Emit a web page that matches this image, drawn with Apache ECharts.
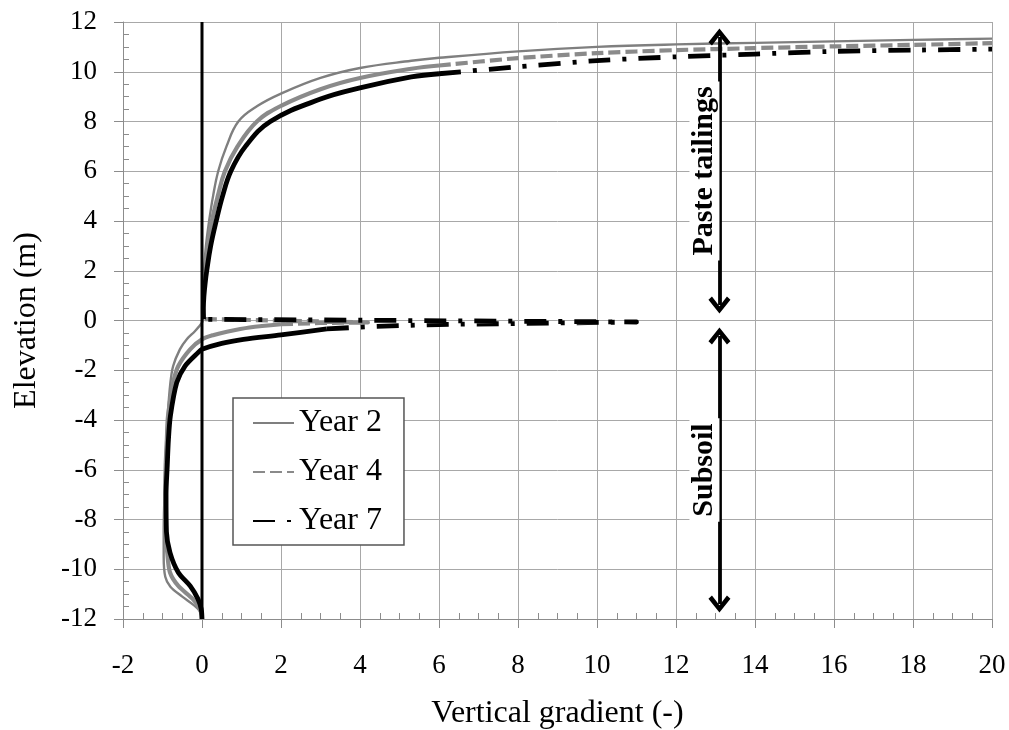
<!DOCTYPE html>
<html>
<head>
<meta charset="utf-8">
<script src="https://cdn.jsdelivr.net/npm/echarts@6/dist/echarts.min.js"></script>
<style>
html,body{margin:0;padding:0;background:#fff;}
#chart{width:1009px;height:730px;}
</style>
</head>
<body>
<div id="chart"></div>
<script>
// ---- data (x = vertical gradient, y = elevation in m) ----
var year2Lower = [[0,-12],[-0.05,-11.7],[-0.2,-11.45],[-0.5,-11.1],[-0.8,-10.7],[-0.93,-10.3],[-0.97,-9.5],[-0.97,-8.5],[-0.95,-7],[-0.93,-5.85],[-0.9,-4.8],[-0.87,-3.84],[-0.8,-2.5],[-0.73,-1.83],[-0.56,-1.16],[-0.39,-0.76],[-0.18,-0.43],[0,-0.09],[0.02,0.04]];
var year2Upper = [[0.02,0.04],[0.015,0.5],[0.02,1],[0.035,1.5],[0.05,2],[0.1,3],[0.18,4],[0.28,5],[0.41,6],[0.62,7],[0.92,8],[1.4,8.62],[2,9.12],[3,9.75],[4,10.15],[5.3,10.44],[6,10.56],[8,10.82],[10,11.0],[12,11.1],[14,11.16],[16,11.22],[18,11.28],[20,11.33]];
var year4LowerCurve = [[0,-12],[-0.05,-11.6],[-0.23,-11.2],[-0.6,-10.67],[-0.81,-10.13],[-0.88,-9.33],[-0.93,-8.5],[-0.93,-7],[-0.92,-5.85],[-0.89,-4.8],[-0.86,-3.84],[-0.73,-2.5],[-0.6,-1.83],[-0.3,-1.16],[0,-0.76],[0.3,-0.58],[0.63,-0.45],[1.2,-0.28],[2,-0.15]];
var year4LowerTail = [[2,-0.15],[3,-0.1],[4.2,-0.08],[0.03,0.06]];
var year4UpperCurve = [[0.03,0.06],[0.025,0.5],[0.04,1],[0.06,1.5],[0.08,2],[0.15,3],[0.25,4],[0.4,5],[0.58,6],[0.9,7],[1.39,8],[2,8.63],[3,9.3],[4,9.75],[5.3,10.12],[6,10.25]];
var year4UpperTail = [[6,10.25],[8,10.55],[10,10.75],[12,10.87],[14,10.95],[16,11.02],[18,11.08],[20,11.15]];
var year7LowerCurve = [[0,-12],[-0.02,-11.6],[-0.1,-11.2],[-0.3,-10.67],[-0.6,-10.13],[-0.81,-9.33],[-0.9,-8.5],[-0.91,-7],[-0.88,-5.85],[-0.85,-4.8],[-0.8,-3.84],[-0.64,-2.5],[-0.43,-1.83],[-0.1,-1.29],[0,-1.16],[0.5,-0.92],[1.05,-0.76],[2,-0.58],[3.16,-0.34]];
var year7LowerTail = [[3.16,-0.34],[4.3,-0.24],[6,-0.16],[8,-0.12],[11,-0.06],[0.04,0.05]];
var year7UpperCurve = [[0.04,0.05],[0.035,0.5],[0.05,1],[0.08,1.5],[0.12,2],[0.22,3],[0.36,4],[0.52,5],[0.73,6],[1.1,7],[1.73,8],[3,8.9],[4,9.35],[5.3,9.79],[6,9.92]];
var year7UpperTail = [[6,9.92],[8,10.2],[10,10.45],[12,10.6],[14,10.71],[16,10.82],[18,10.87],[20,10.91]];
var zeroLine = [[0,-12],[0,12]];
var seriesNames = ['Year 2','Year 4','Year 7'];
var pasteArrow = [0.62, 11.4];
var subsoilArrow = [-11.4, -0.62];
var arrowX = 13.1;
var annotationLabels = ['Paste tailings','Subsoil'];

var FONT = '"Liberation Serif","Times New Roman",serif';
var styles = {
  'Year 2': {color:'#7f7f7f', width:2.4, type:'solid'},
  'Year 4': {color:'#8a8a8a', width:4.2, type:[12,5]},
  'Year 7': {color:'#000000', width:4.8, type:[22,12,4,12]}
};
function mk(name, data, smooth, dashed){
  var s = styles[name];
  return {
    type:'line', name:name, data:data, showSymbol:false, symbol:'none',
    smooth:smooth, animation:false, silent:true, z:3,
    lineStyle:{color:s.color, width:s.width, type:dashed ? s.type : 'solid', cap:'butt', join:'round'},
    itemStyle:{color:s.color}
  };
}
var chevron = 'path://M11,0 L22,13 L18.5,16 L11,7 L3.5,16 L0,13 Z';
var labelStyle = {
  show:true, position:'middle', fontFamily:FONT, fontWeight:'bold', fontSize:30,
  color:'#000', backgroundColor:'#fff', padding:[0,5], distance:0
};
var series = [
  // dashed parts first so the legend icon takes their style
  mk('Year 2', year2Lower, 0.3, false),
  mk('Year 4', year4UpperTail, 0.2, true),
  mk('Year 7', year7UpperTail, 0.2, true),
  mk('Year 2', year2Upper, 0.4, false),
  mk('Year 4', year4LowerTail, false, true),
  mk('Year 7', year7LowerTail, false, true),
  mk('Year 4', year4LowerCurve, 0.3, false),
  mk('Year 4', year4UpperCurve, 0.4, false),
  mk('Year 7', year7LowerCurve, 0.3, false),
  mk('Year 7', year7UpperCurve, 0.4, false),
  {
    type:'line', name:'zero', data:zeroLine, showSymbol:false, symbol:'none',
    animation:false, silent:true, z:4,
    lineStyle:{color:'#000', width:3},
    markLine:{
      silent:true, animation:false,
      symbol:[chevron, chevron], symbolSize:[22,17],
      lineStyle:{color:'#000', width:3.8, type:'solid'},
      label:labelStyle,
      data:[
        [{coord:[arrowX, pasteArrow[0]], label:{formatter:annotationLabels[0]}}, {coord:[arrowX, pasteArrow[1]]}],
        [{coord:[arrowX, subsoilArrow[0]], label:{formatter:annotationLabels[1]}}, {coord:[arrowX, subsoilArrow[1]]}]
      ]
    }
  }
];

var axisCommon = {
  type:'value',
  axisLine:{show:true, onZero:false, lineStyle:{color:'#8c8c8c', width:1}},
  axisTick:{show:true, inside:false, length:9, lineStyle:{color:'#8c8c8c'}},
  minorTick:{show:true, splitNumber:4, length:-6, lineStyle:{color:'#8c8c8c'}},
  splitLine:{show:true, lineStyle:{color:'#a8a8a8', width:1}},
  axisLabel:{color:'#000', fontFamily:FONT, fontSize:27},
  nameTextStyle:{color:'#000', fontFamily:FONT, fontSize:32}
};
var xAxis = echarts.util.merge(echarts.util.clone(axisCommon), {
  min:-2, max:20, interval:2,
  name:'Vertical gradient (-)', nameLocation:'middle', nameGap:79,
  axisLabel:{margin:33}
}, true);
var yAxis = echarts.util.merge(echarts.util.clone(axisCommon), {
  min:-12, max:12, interval:2,
  name:'Elevation (m)', nameLocation:'middle', nameRotate:90, nameGap:80,
  axisLabel:{margin:26}
}, true);

var chart = echarts.init(document.getElementById('chart'), null, {renderer:'canvas'});
chart.setOption({
  backgroundColor:'#fff',
  animation:false,
  grid:{left:123, right:17, top:22, bottom:111, containLabel:false, outerBoundsMode:'none'},
  xAxis:xAxis,
  yAxis:yAxis,
  legend:{
    data:seriesNames, orient:'vertical', left:233, top:398,
    width:175, itemWidth:41, itemHeight:14, itemGap:15,
    padding:[8,22,7,19], borderColor:'#555', borderWidth:1.5, backgroundColor:'#fff',
    borderRadius:0, selectedMode:false,
    itemStyle:{opacity:0},
    textStyle:{fontFamily:FONT, fontSize:32, color:'#000', lineHeight:34}
  },
  series:series
});
</script>
</body>
</html>
